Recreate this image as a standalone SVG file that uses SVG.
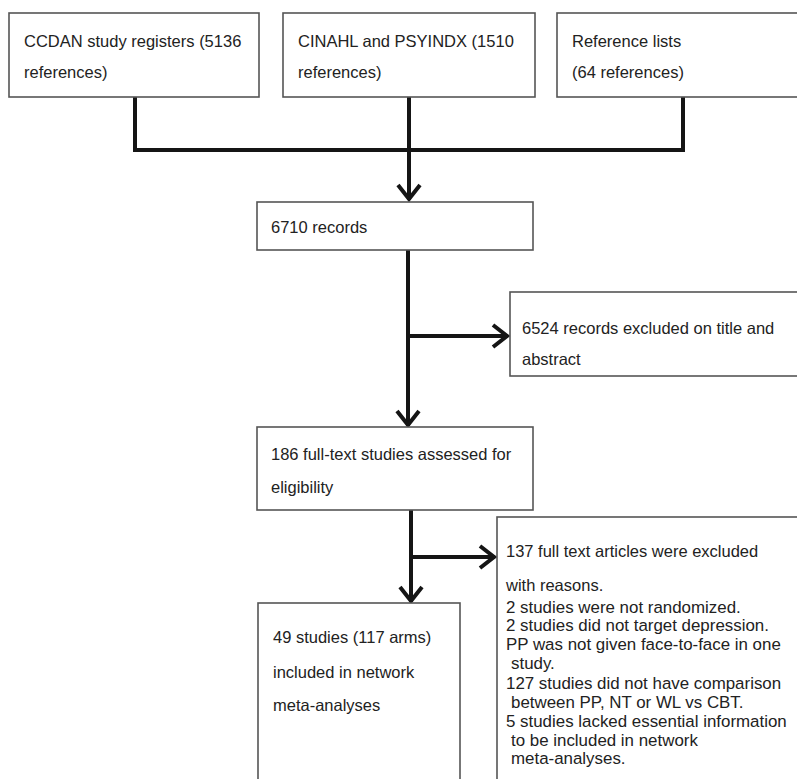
<svg xmlns="http://www.w3.org/2000/svg" width="797" height="779" viewBox="0 0 797 779">
<style>
.box{fill:#fff;stroke:#555;stroke-width:1.6}
.t{font-family:"Liberation Sans",Arial,Helvetica,sans-serif;font-size:16.5px;fill:#222}
.s{font-size:16.9px}
.c{fill:none;stroke:#151515;stroke-width:4;stroke-linecap:butt;stroke-linejoin:miter}
</style>
<defs>
<marker id="ah" viewBox="-18 -14 20 28" markerWidth="20" markerHeight="28" refX="0" refY="0" orient="auto" markerUnits="userSpaceOnUse">
<path d="M-15,-11 L-1,0 L-15,11" fill="none" stroke="#151515" stroke-width="4" stroke-linejoin="miter"/>
</marker>
</defs>
<rect width="797" height="779" fill="#fff"/>
<g id="connectors">
<path class="c" d="M135,97 V150 H683 V97"/>
<path class="c" d="M409,97 V150"/>
<path class="c" d="M409,150 V200" marker-end="url(#ah)"/>
<path class="c" d="M408,250 V426" marker-end="url(#ah)"/>
<path class="c" d="M410,336 H508" marker-end="url(#ah)"/>
<path class="c" d="M411,510 V602" marker-end="url(#ah)"/>
<path class="c" d="M413,557 H495" marker-end="url(#ah)"/>
</g>
<g id="n1">
<rect class="box" x="9" y="13" width="250" height="84"/>
<text class="t" x="24" y="47">CCDAN study registers (5136</text>
<text class="t" x="24" y="78">references)</text>
</g>
<g id="n2">
<rect class="box" x="283" y="13" width="252" height="84"/>
<text class="t" x="298" y="47">CINAHL and PSYINDX (1510</text>
<text class="t" x="298" y="78">references)</text>
</g>
<g id="n3">
<rect class="box" x="557" y="13" width="245" height="84"/>
<text class="t" x="572" y="47">Reference lists</text>
<text class="t" x="572" y="78">(64 references)</text>
</g>
<g id="n4">
<rect class="box" x="257" y="202" width="276" height="48"/>
<text class="t" x="271" y="233">6710 records</text>
</g>
<g id="n5">
<rect class="box" x="510" y="292" width="292" height="84"/>
<text class="t" x="522" y="334">6524 records excluded on title and</text>
<text class="t" x="522" y="365">abstract</text>
</g>
<g id="n6">
<rect class="box" x="257" y="427" width="276" height="83"/>
<text class="t" x="271" y="460">186 full-text studies assessed for</text>
<text class="t" x="271" y="493">eligibility</text>
</g>
<g id="n7">
<rect class="box" x="497" y="517" width="305" height="270"/>
<text class="t" x="506" y="557">137 full text articles were excluded</text>
<text class="t" x="506" y="591">with reasons.</text>
<g class="t s">
<text x="506" y="613">2 studies were not randomized.</text>
<text x="506" y="631">2 studies did not target depression.</text>
<text x="506" y="650">PP was not given face-to-face in one</text>
<text x="511" y="669">study.</text>
<text x="506" y="689">127 studies did not have comparison</text>
<text x="511" y="708">between PP, NT or WL vs CBT.</text>
<text x="506" y="727">5 studies lacked essential information</text>
<text x="511" y="746">to be included in network</text>
<text x="511" y="764">meta-analyses.</text>
</g>
</g>
<g id="n8">
<rect class="box" x="258" y="603" width="202" height="184"/>
<text class="t" x="273" y="643">49 studies (117 arms)</text>
<text class="t" x="273" y="678">included in network</text>
<text class="t" x="273" y="711">meta-analyses</text>
</g>
</svg>
